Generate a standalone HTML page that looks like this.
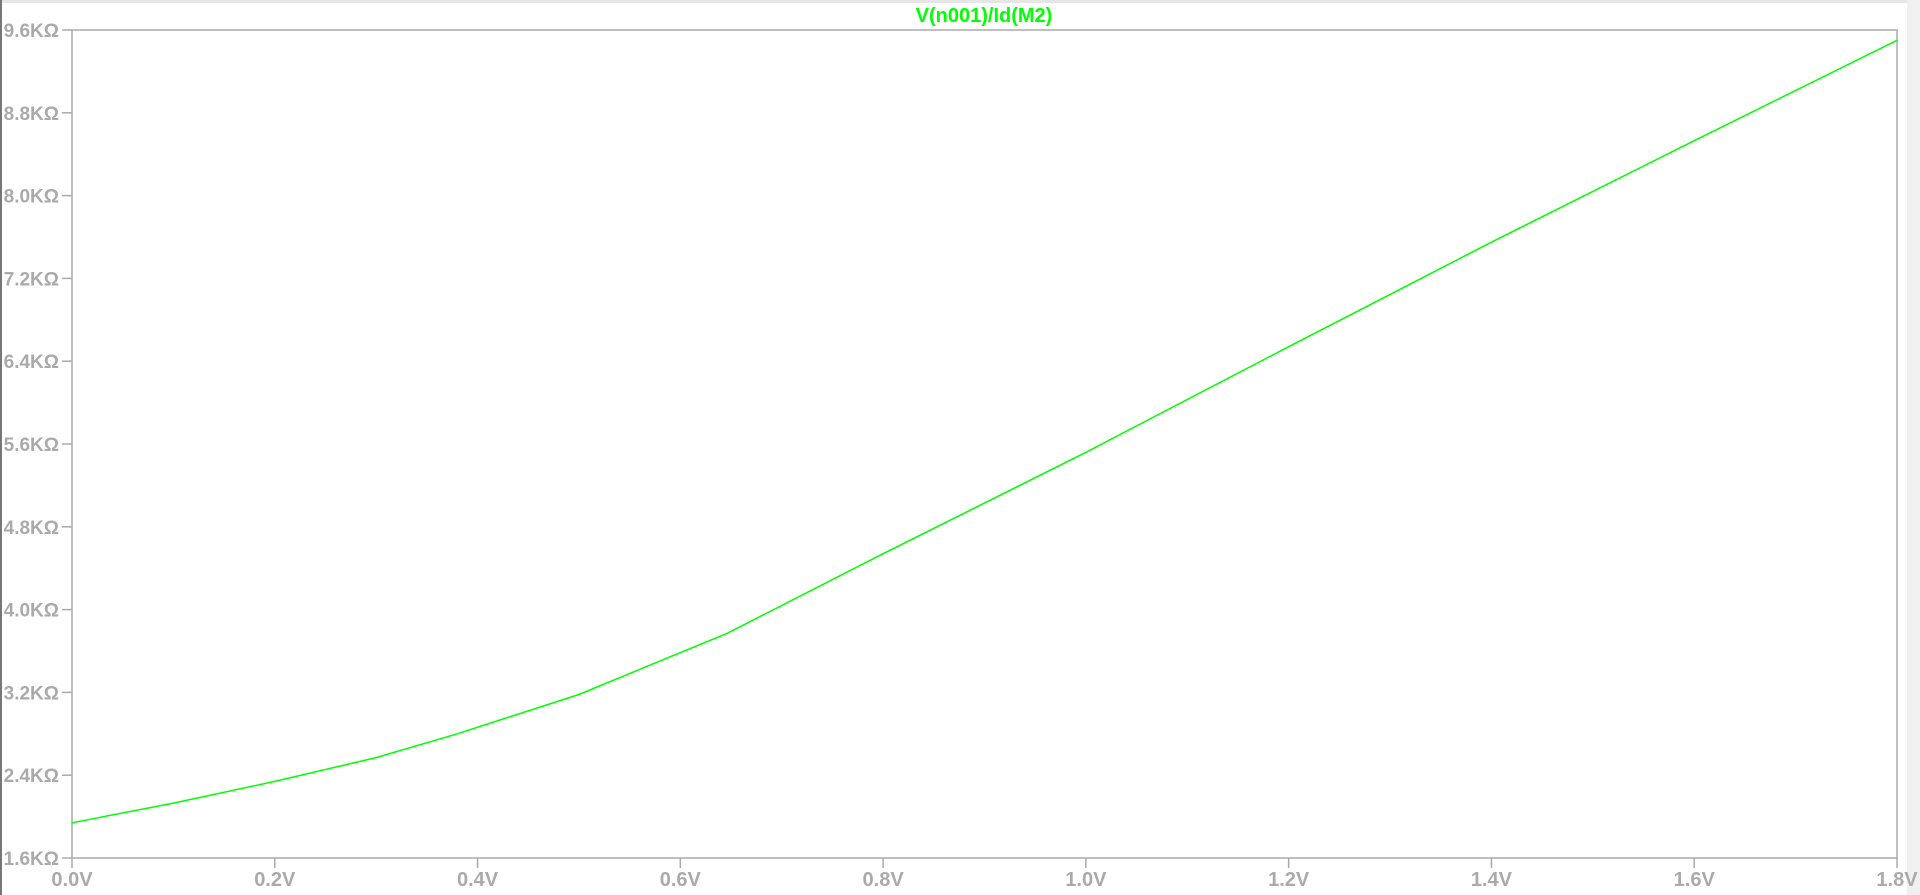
<!DOCTYPE html>
<html><head><meta charset="utf-8"><style>
html,body{margin:0;padding:0;background:#fff;}
body{width:1920px;height:895px;overflow:hidden;position:relative;font-family:"Liberation Sans",sans-serif;}
</style></head><body>
<div style="position:absolute;left:0;top:0;width:1920px;height:3px;background:#e6e6e6"></div>
<div style="position:absolute;left:0;top:0;width:2px;height:895px;background:#777"></div>
<div style="position:absolute;left:1907px;top:0;width:13px;height:895px;background:#f0f0f0"></div>
<svg id="chart" width="1920" height="895" style="position:absolute;left:0;top:0"></svg>
<script>
const xTicks=[0,0.2,0.4,0.6,0.8,1.0,1.2,1.4,1.6,1.8];
const xTickLabels=["0.0V","0.2V","0.4V","0.6V","0.8V","1.0V","1.2V","1.4V","1.6V","1.8V"];
const yTicks=[1.6,2.4,3.2,4.0,4.8,5.6,6.4,7.2,8.0,8.8,9.6];
const yTickLabels=["1.6KΩ","2.4KΩ","3.2KΩ","4.0KΩ","4.8KΩ","5.6KΩ","6.4KΩ","7.2KΩ","8.0KΩ","8.8KΩ","9.6KΩ"];
const vgs=[0,0.1,0.2,0.3,0.38,0.5,0.646,0.8,1.0,1.2,1.4,1.6,1.8];
const resistance=[1.94,2.13,2.34,2.57,2.80,3.18,3.77,4.54,5.52,6.54,7.55,8.53,9.5];
const L=72,R=1897,T=30,B=858;
const X=v=>L+(v-0)/(1.8-0)*(R-L);
const Y=v=>B-(v-1.6)/(9.6-1.6)*(B-T);
const svg=document.getElementById('chart');
const NS='http://www.w3.org/2000/svg';
function mk(t,a){const e=document.createElementNS(NS,t);for(const k in a)e.setAttribute(k,a[k]);svg.appendChild(e);return e;}
const frame=mk('rect',{x:L,y:T,width:R-L,height:B-T,fill:'none',stroke:'#aaa','stroke-width':1.5});


xTicks.forEach((v,i)=>{
 const t=mk('line',{x1:X(v),x2:X(v),y1:B,y2:B+10,stroke:'#aaa','stroke-width':1.5});
 
 
 const tx=mk('text',{x:X(v),y:B+28,'text-anchor':'middle','font-size':20,'font-weight':'bold',fill:'#aaa'});
 tx.textContent=xTickLabels[i];
 
 
});
yTicks.forEach((v,i)=>{
 const t=mk('line',{x1:L-10,x2:L,y1:Y(v),y2:Y(v),stroke:'#aaa','stroke-width':1.5});
 
 
 const tx=mk('text',{x:L-13,y:Y(v)+7,'text-anchor':'end','font-size':19,'font-weight':'bold',fill:'#aaa'});
 tx.textContent=yTickLabels[i];
 
 
});
const d=vgs.map((v,i)=>(i?'L':'M')+X(v).toFixed(1)+','+Y(resistance[i]).toFixed(1)).join(' ');
const p=mk('path',{d:d,fill:'none',stroke:'#00ff00','stroke-width':1.5});


const title=mk('text',{x:984,y:22,'text-anchor':'middle','font-size':20,'font-weight':'bold',fill:'#00ff00'});
title.textContent='V(n001)/Id(M2)';


</script>
</body></html>
